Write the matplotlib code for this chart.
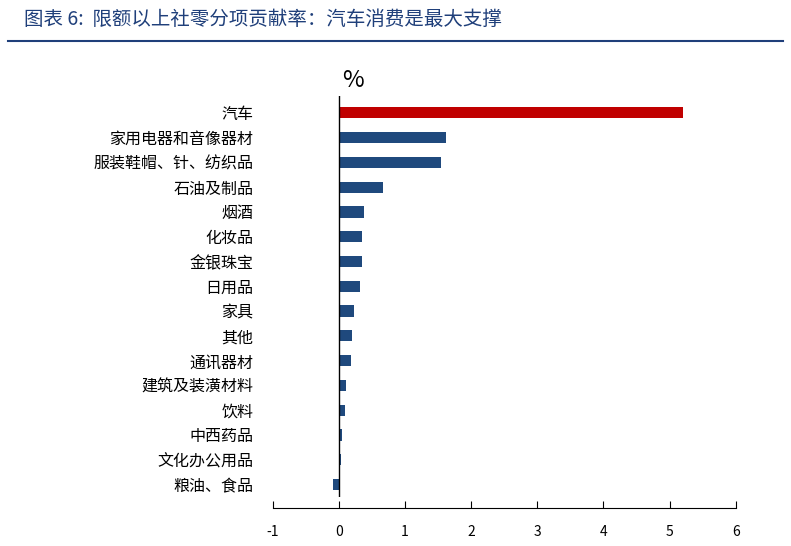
import matplotlib
matplotlib.use("Agg")
import matplotlib.pyplot as plt

categories = ["汽车","家用电器和音像器材","服装鞋帽、针、纺织品","石油及制品","烟酒","化妆品","金银珠宝","日用品","家具","其他","通讯器材","建筑及装潢材料","饮料","中西药品","文化办公用品","粮油、食品"]
values = [5.21,1.62,1.55,0.67,0.38,0.35,0.35,0.32,0.23,0.20,0.18,0.10,0.09,0.04,0.03,-0.09]
xticks = [-1,0,1,2,3,4,5,6]

plt.rcParams["font.family"] = "Noto Sans CJK SC"
fig = plt.figure(figsize=(7.91,5.46), dpi=100)
fig.text(0.03, 0.965, "图表 6:  限额以上社零分项贡献率：汽车消费是最大支撑", color="#1F3F7A",
         fontsize=14, style="italic", va="center")
fig.add_artist(plt.Line2D([0.01,0.99],[0.925,0.925], color="#1F3F7A", lw=1.5))

ax = fig.add_axes([0.345, 0.09, 0.585, 0.735])
y = list(range(len(categories)))
colors = ["#C00000"] + ["#1F497D"]*(len(categories)-1)
ax.barh(y, values, height=0.45, color=colors)
ax.set_yticks(y)
ax.set_yticklabels(categories, fontsize=11.5)
ax.set_ylim(len(categories)-0.5, -0.7)
ax.set_xlim(-1, 6)
ax.set_xticks(xticks)
ax.set_xticklabels([str(t) for t in xticks], fontsize=16)
for s in ["top","right","left"]:
    ax.spines[s].set_visible(False)
ax.spines["bottom"].set_position(("data", len(categories)-0.05))
ax.axvline(0, color="black", lw=1)
ax.tick_params(axis="y", length=0, pad=14)
ax.tick_params(axis="x", direction="in", length=5, pad=12)
ax.text(0.05, -0.85, "%", fontsize=17, ha="left", va="bottom")
fig.savefig("out.png", dpi=100)
